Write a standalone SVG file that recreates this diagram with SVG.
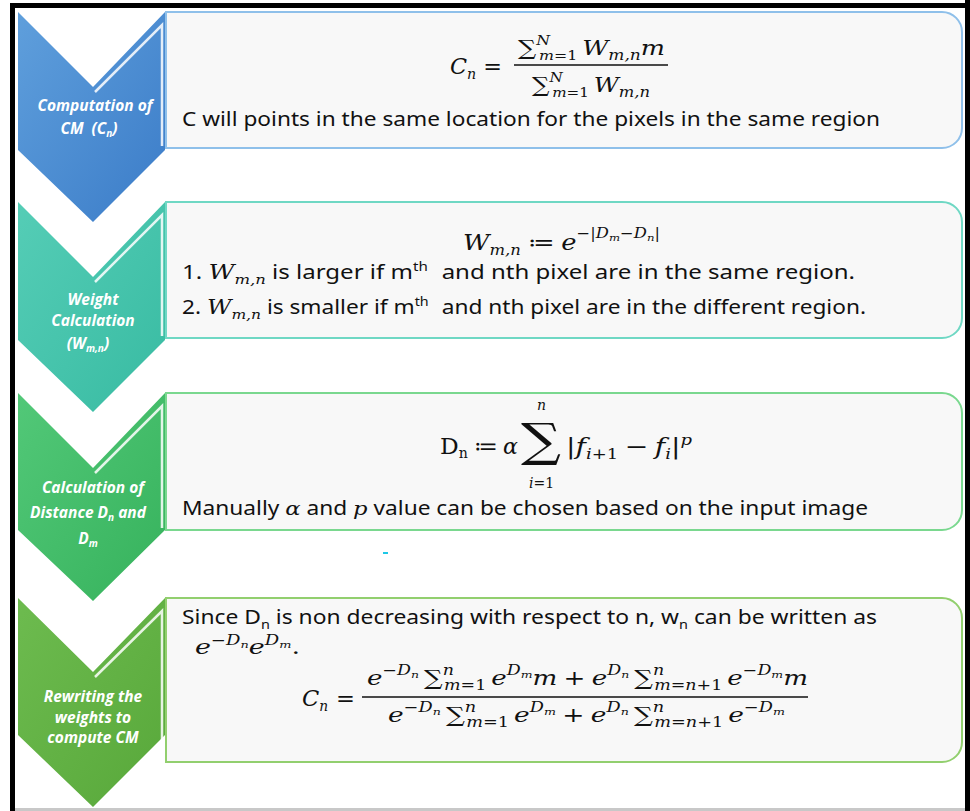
<svg xmlns="http://www.w3.org/2000/svg" width="970" height="811" viewBox="0 0 970 811">
<defs>
<linearGradient id="gBlue" x1="0" y1="0" x2="1" y2="1"><stop offset="0" stop-color="#5f9fdc"/><stop offset="1" stop-color="#3b7cc8"/></linearGradient>
<linearGradient id="gTeal" x1="0" y1="0" x2="1" y2="1"><stop offset="0" stop-color="#55cdb6"/><stop offset="1" stop-color="#38bba2"/></linearGradient>
<linearGradient id="gGreen" x1="0" y1="0" x2="1" y2="1"><stop offset="0" stop-color="#52c878"/><stop offset="1" stop-color="#36b25c"/></linearGradient>
<linearGradient id="gOlive" x1="0" y1="0" x2="1" y2="1"><stop offset="0" stop-color="#6dbb4f"/><stop offset="1" stop-color="#58a83a"/></linearGradient>
</defs>
<style>
.box{fill:#f8f8f8;stroke-width:2}
.hl{fill:none;stroke:#ffffff;stroke-width:2.5;stroke-opacity:0.85}
.lab{font-family:"Open Sans","Noto Sans",sans-serif;font-style:italic;font-weight:700;font-size:15.5px;fill:#ffffff;text-anchor:middle}
.t{font-family:"Noto Sans","Open Sans",sans-serif;font-size:19px;fill:#111111}
.m{font-family:"DejaVu Serif","Liberation Serif",serif;font-style:italic;fill:#111111}
.r{font-style:normal}
</style>
<rect width="970" height="811" fill="#ffffff"/>
<g id="frame">
<rect x="10" y="3" width="960" height="5" fill="#000"/>
<rect x="10" y="3" width="5" height="808" fill="#000"/>
<rect x="965" y="0" width="5" height="811" fill="#000"/>
<rect x="15" y="808" width="950" height="3" fill="#c8c8c8"/>
</g>
<g id="connectors"></g>

<g id="step1">
<path d="M18,12 L93,87 L165,12 L165,150 L93,222 L18,150 Z" fill="url(#gBlue)"/>
<path class="box" d="M166,12 H942 A20,20 0 0 1 962,32 V128 A20,20 0 0 1 942,148 H166 Z" stroke="#8fc0ea"/>
<polyline class="hl" points="95,92 162,25 162,146"/>
<text class="lab"><tspan x="95" y="111">Computation of</tspan><tspan x="89" y="134">CM</tspan><tspan dx="8">(C</tspan><tspan font-size="10" dy="3">n</tspan><tspan dy="-3">)</tspan></text>
<text class="m" font-size="22" x="450" y="74" textLength="52" lengthAdjust="spacingAndGlyphs">C<tspan font-size="14" dy="5">n</tspan><tspan class="r" dy="-5" dx="7">=</tspan></text>
<line x1="514" y1="65" x2="668" y2="65" stroke="#111" stroke-width="1.3"/>
<text class="m" font-size="21" x="518" y="55" textLength="147" lengthAdjust="spacingAndGlyphs"><tspan class="r">∑</tspan><tspan font-size="13" dy="-10">N</tspan><tspan font-size="13" dx="-9" dy="15">m<tspan class="r">=1</tspan></tspan><tspan dy="-5" dx="4">W</tspan><tspan font-size="14" dy="5">m,n</tspan><tspan dy="-5">m</tspan></text>
<text class="m" font-size="21" x="532" y="92" textLength="118" lengthAdjust="spacingAndGlyphs"><tspan class="r">∑</tspan><tspan font-size="13" dy="-10">N</tspan><tspan font-size="13" dx="-9" dy="15">m<tspan class="r">=1</tspan></tspan><tspan dy="-5" dx="4">W</tspan><tspan font-size="14" dy="5">m,n</tspan></text>
<text class="t" x="182" y="126" textLength="698" lengthAdjust="spacingAndGlyphs">C will points in the same location for the pixels in the same region</text>
</g>

<g id="step2">
<path d="M18,202 L93,277 L165,202 L165,340 L93,412 L18,340 Z" fill="url(#gTeal)"/>
<path class="box" d="M166,202 H942 A20,20 0 0 1 962,222 V318 A20,20 0 0 1 942,338 H166 Z" stroke="#6fd8c4"/>
<polyline class="hl" points="95,282 162,215 162,336"/>
<text class="lab"><tspan x="93" y="305">Weight</tspan><tspan x="93" y="326">Calculation</tspan><tspan x="88" y="349">(W</tspan><tspan font-size="10" dy="3">m,n</tspan><tspan dy="-3">)</tspan></text>
<text class="m" font-size="22" x="463" y="250" textLength="197" lengthAdjust="spacingAndGlyphs">W<tspan font-size="14" dy="5">m,n</tspan><tspan class="r" dy="-5" dx="6">≔</tspan><tspan dx="6">e</tspan><tspan font-size="14" dy="-12"><tspan class="r">−|</tspan>D<tspan font-size="10" dy="3">m</tspan><tspan class="r" dy="-3">−</tspan>D<tspan font-size="10" dy="3">n</tspan><tspan class="r" dy="-3">|</tspan></tspan></text>
<text class="t" x="182" y="279" textLength="673" lengthAdjust="spacingAndGlyphs">1. <tspan class="m" font-size="20">W</tspan><tspan class="m" font-size="13" dy="5">m,n</tspan><tspan dy="-5"> is larger if m</tspan><tspan font-size="12" dy="-8">th</tspan><tspan dy="8" dx="6"> and nth pixel are in the same region.</tspan></text>
<text class="t" x="182" y="314" textLength="684" lengthAdjust="spacingAndGlyphs">2. <tspan class="m" font-size="20">W</tspan><tspan class="m" font-size="13" dy="5">m,n</tspan><tspan dy="-5"> is smaller if m</tspan><tspan font-size="12" dy="-8">th</tspan><tspan dy="8" dx="6"> and nth pixel are in the different region.</tspan></text>
</g>

<g id="step3">
<path d="M18,393 L93,468 L165,393 L165,530 L93,601 L18,530 Z" fill="url(#gGreen)"/>
<path class="box" d="M166,393 H942 A20,20 0 0 1 962,413 V510 A20,20 0 0 1 942,530 H166 Z" stroke="#7ad88f"/>
<polyline class="hl" points="95,473 162,406 162,528"/>
<text class="lab"><tspan x="93" y="493">Calculation of</tspan><tspan x="88" y="518">Distance D</tspan><tspan font-size="10" dy="3">n</tspan><tspan dy="-3"> and</tspan><tspan x="88" y="544">D</tspan><tspan font-size="10" dy="3">m</tspan></text>
<text class="m r" font-size="23" x="440" y="454" textLength="58" lengthAdjust="spacingAndGlyphs">D<tspan font-size="14" dy="4">n</tspan><tspan dy="-4" dx="6">≔</tspan></text>
<text class="m" font-size="22" x="503" y="454">α</text>
<text class="m r" font-size="46" x="521" y="456" textLength="40" lengthAdjust="spacingAndGlyphs">∑</text>
<text class="m" font-size="14" x="537" y="410">n</text>
<text class="m" font-size="14" x="529" y="488">i<tspan class="r">=1</tspan></text>
<text class="m" font-size="22" x="566" y="454" textLength="126" lengthAdjust="spacingAndGlyphs"><tspan class="r">|</tspan>f<tspan font-size="14" dy="5">i<tspan class="r">+1</tspan></tspan><tspan class="r" dy="-5" dx="5">−</tspan><tspan dx="5">f</tspan><tspan font-size="14" dy="5">i</tspan><tspan class="r" dy="-5">|</tspan><tspan font-size="14" dy="-9">p</tspan></text>
<text class="t" x="182" y="515" textLength="686" lengthAdjust="spacingAndGlyphs">Manually <tspan class="m" font-size="19">α</tspan> and <tspan class="m" font-size="19">p</tspan> value can be chosen based on the input image</text>
</g>

<rect x="383" y="552" width="5" height="2" fill="#1ec8e6"/>

<g id="step4">
<path d="M18,598 L93,672 L165,598 L165,735 L93,807 L18,735 Z" fill="url(#gOlive)"/>
<path class="box" d="M166,598 H942 A20,20 0 0 1 962,618 V742 A20,20 0 0 1 942,762 H166 Z" stroke="#92cf6e"/>
<polyline class="hl" points="95,677 162,611 162,760"/>
<text class="lab"><tspan x="93" y="702">Rewriting the</tspan><tspan x="93" y="723">weights to</tspan><tspan x="93" y="743">compute CM</tspan></text>
<text class="t" x="182" y="624" textLength="695" lengthAdjust="spacingAndGlyphs">Since D<tspan font-size="12" dy="5">n</tspan><tspan dy="-5"> is non decreasing with respect to n, w</tspan><tspan font-size="12" dy="5">n</tspan><tspan dy="-5"> can be written as</tspan></text>
<text class="m" font-size="21" x="195" y="654" textLength="105" lengthAdjust="spacingAndGlyphs">e<tspan font-size="14" dy="-9"><tspan class="r">−</tspan>D<tspan font-size="10" dy="3">n</tspan></tspan><tspan dy="6">e</tspan><tspan font-size="14" dy="-9">D<tspan font-size="10" dy="3">m</tspan></tspan><tspan class="r" dy="6">.</tspan></text>
<text class="m" font-size="23" x="302" y="706" textLength="53" lengthAdjust="spacingAndGlyphs">C<tspan font-size="14" dy="5">n</tspan><tspan class="r" dy="-5" dx="8">=</tspan></text>
<line x1="362" y1="697" x2="808" y2="697" stroke="#111" stroke-width="1.3"/>
<text class="m" font-size="21" x="367" y="685" textLength="441" lengthAdjust="spacingAndGlyphs">e<tspan font-size="14" dy="-10"><tspan class="r">−</tspan>D<tspan font-size="10" dy="3">n</tspan></tspan><tspan class="r" dy="7" dx="4">∑</tspan><tspan font-size="14" dy="-10">n</tspan><tspan font-size="14" dx="-8" dy="15">m<tspan class="r">=1</tspan></tspan><tspan dy="-5" dx="4">e</tspan><tspan font-size="14" dy="-10">D<tspan font-size="10" dy="3">m</tspan></tspan><tspan dy="7">m</tspan><tspan class="r" dx="5">+</tspan><tspan dx="5">e</tspan><tspan font-size="14" dy="-10">D<tspan font-size="10" dy="3">n</tspan></tspan><tspan class="r" dy="7" dx="4">∑</tspan><tspan font-size="14" dy="-10">n</tspan><tspan font-size="14" dx="-8" dy="15">m<tspan class="r">=</tspan>n<tspan class="r">+1</tspan></tspan><tspan dy="-5" dx="4">e</tspan><tspan font-size="14" dy="-10"><tspan class="r">−</tspan>D<tspan font-size="10" dy="3">m</tspan></tspan><tspan dy="7">m</tspan></text>
<text class="m" font-size="21" x="388" y="722" textLength="397" lengthAdjust="spacingAndGlyphs">e<tspan font-size="14" dy="-10"><tspan class="r">−</tspan>D<tspan font-size="10" dy="3">n</tspan></tspan><tspan class="r" dy="7" dx="4">∑</tspan><tspan font-size="14" dy="-10">n</tspan><tspan font-size="14" dx="-8" dy="15">m<tspan class="r">=1</tspan></tspan><tspan dy="-5" dx="4">e</tspan><tspan font-size="14" dy="-10">D<tspan font-size="10" dy="3">m</tspan></tspan><tspan class="r" dy="7" dx="5">+</tspan><tspan dx="5">e</tspan><tspan font-size="14" dy="-10">D<tspan font-size="10" dy="3">n</tspan></tspan><tspan class="r" dy="7" dx="4">∑</tspan><tspan font-size="14" dy="-10">n</tspan><tspan font-size="14" dx="-8" dy="15">m<tspan class="r">=</tspan>n<tspan class="r">+1</tspan></tspan><tspan dy="-5" dx="4">e</tspan><tspan font-size="14" dy="-10"><tspan class="r">−</tspan>D<tspan font-size="10" dy="3">m</tspan></tspan></text>
</g>
</svg>
